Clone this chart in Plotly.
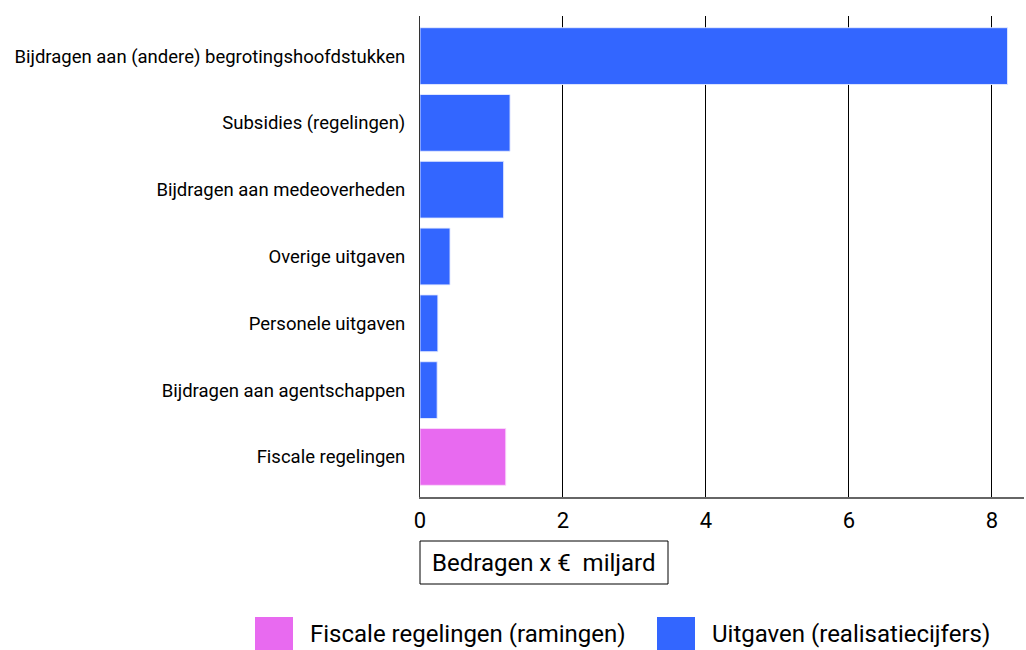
import plotly.graph_objects as go

categories = [
    "Bijdragen aan (andere) begrotingshoofdstukken",
    "Subsidies (regelingen)",
    "Bijdragen aan medeoverheden",
    "Overige uitgaven",
    "Personele uitgaven",
    "Bijdragen aan agentschappen",
    "Fiscale regelingen",
]
uitgaven_cats = categories[:6]
uitgaven_vals = [8.22, 1.26, 1.17, 0.42, 0.25, 0.24]
fiscaal_cats = ["Fiscale regelingen"]
fiscaal_vals = [1.20]
x_ticks = [0, 2, 4, 6, 8]
legend_labels = ["Fiscale regelingen (ramingen)", "Uitgaven (realisatiecijfers)"]
axis_title = "Bedragen x €\u00a0 miljard"

BLUE = "#3366FF"
PINK = "#E86AF0"
FONT = "Roboto"

W, H = 1026, 650
L, R, T, B = 420, 2, 16, 153
PW, PH = W - L - R, H - T - B


def px(x):
    return (x - L) / PW


def py(y):
    return (H - B - y) / PH


fig = go.Figure()
fig.add_trace(go.Bar(y=uitgaven_cats, x=uitgaven_vals, orientation="h",
                     marker=dict(color=BLUE, line=dict(color="rgba(230,235,255,0.9)", width=1)),
                     name=legend_labels[1], showlegend=False, hoverinfo="x+y"))
fig.add_trace(go.Bar(y=fiscaal_cats, x=fiscaal_vals, orientation="h",
                     marker=dict(color=PINK, line=dict(color="rgba(250,220,250,0.9)", width=1)),
                     name=legend_labels[0], showlegend=False, hoverinfo="x+y"))

fig.update_layout(
    width=W, height=H,
    margin=dict(l=L, r=R, t=T, b=B),
    paper_bgcolor="white", plot_bgcolor="white",
    barmode="relative", bargap=0.15,
    font=dict(family=FONT, color="black"),
    xaxis=dict(range=[0, 8.45], tickvals=x_ticks, showgrid=True, gridcolor="black", gridwidth=1,
               zeroline=False, showline=True, linecolor="#666", linewidth=2,
               tickfont=dict(size=22, family=FONT), ticks="", ticklabelstandoff=3),
    yaxis=dict(categoryorder="array", categoryarray=categories, range=[6.6, -0.6],
               showgrid=False, zeroline=False, showline=True, linecolor="#333", linewidth=1,
               tickfont=dict(size=18.5, family=FONT), ticks="", ticklabelstandoff=10),
)

# axis title in a box
fig.add_shape(type="rect", xref="paper", yref="paper",
              x0=px(420), x1=px(668), y0=py(584), y1=py(541),
              line=dict(color="black", width=1), fillcolor="white")
fig.add_annotation(xref="paper", yref="paper", x=px(544), xanchor="center",
                   y=py(562.5), yanchor="middle", text=axis_title, showarrow=False,
                   font=dict(size=24, family=FONT, color="black"))

# manual legend
leg = [(255, PINK, legend_labels[0]), (657, BLUE, legend_labels[1])]
for x0, col, lab in leg:
    fig.add_shape(type="rect", xref="paper", yref="paper",
                  x0=px(x0), x1=px(x0 + 38), y0=py(656), y1=py(617),
                  fillcolor=col, line=dict(width=0))
    fig.add_annotation(xref="paper", yref="paper", x=px(x0 + 53), xanchor="left",
                       y=py(634), yanchor="middle", text=lab, showarrow=False,
                       font=dict(size=24, family=FONT, color="black"))

fig.write_html("out.html", config={"displayModeBar": False},
               post_script="document.body.style.margin='0';document.body.style.overflow='hidden';")
